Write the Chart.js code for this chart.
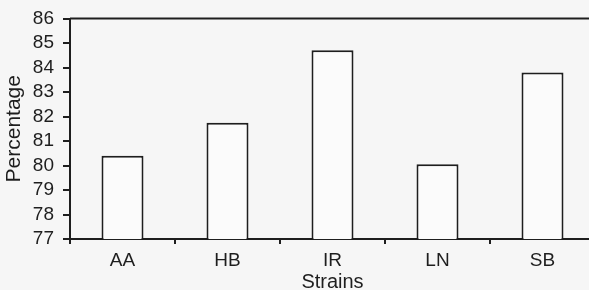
<!DOCTYPE html>
<html>
<head>
<meta charset="utf-8">
<script src="https://cdn.jsdelivr.net/npm/chart.js@4/dist/chart.umd.min.js"></script>
<style>
  html, body { margin: 0; padding: 0; background: #f6f6f6; overflow: hidden; }
  #wrap { width: 598px; height: 290px; }
</style>
</head>
<body>
<div id="wrap"><canvas id="chart"></canvas></div>
<script>
// strains and percentage values
const strains = ['AA', 'HB', 'IR', 'LN', 'SB'];
const percentage = [80.4, 81.75, 84.7, 80.05, 83.8];
const yMin = 77;
const yMax = 86;

const ink = '#1e1e1e';
const family = '"Liberation Sans", Arial, sans-serif';

// top + right border of the plot frame
const frame = {
    id: 'frame',
    afterDraw(chart) {
        const { ctx, chartArea: a } = chart;
        ctx.save();
        ctx.strokeStyle = ink;
        ctx.lineWidth = 2;
        ctx.beginPath();
        ctx.moveTo(a.left, a.top);
        ctx.lineTo(a.right, a.top);
        ctx.lineTo(a.right, a.bottom);
        ctx.stroke();
        ctx.restore();
    }
};

new Chart(document.getElementById('chart'), {
    type: 'bar',
    data: {
        labels: strains,
        datasets: [{
            label: 'Percentage',
            data: percentage,
            backgroundColor: '#fbfbfb',
            borderColor: ink,
            borderWidth: 2,
            barPercentage: 0.4,
            categoryPercentage: 1
        }]
    },
    options: {
        responsive: true,
        maintainAspectRatio: false,
        animation: false,
        layout: { padding: { top: 18, right: 3, bottom: 0, left: 0 } },
        plugins: { legend: { display: false }, tooltip: { enabled: false } },
        scales: {
            x: {
                grid: { display: true, drawOnChartArea: false, offset: true, tickLength: 5, color: ink, lineWidth: 2 },
                border: { display: true, color: ink, width: 2 },
                ticks: { color: ink, font: { family, size: 19, lineHeight: 1.2 }, padding: 5, maxRotation: 0, autoSkip: false },
                title: { display: true, text: 'Strains', color: ink, font: { family, size: 20, lineHeight: 0.75 }, padding: { top: 0, bottom: 0 } },
                afterFit(s) { s.height = 51; }
            },
            y: {
                min: yMin,
                max: yMax,
                grid: { display: true, drawOnChartArea: false, tickLength: 7, color: ink, lineWidth: 2 },
                border: { display: true, color: ink, width: 2 },
                ticks: { stepSize: 1, color: ink, font: { family, size: 19, lineHeight: 1 }, padding: 9, autoSkip: false },
                title: { display: true, text: 'Percentage', color: ink, font: { family, size: 21, lineHeight: 1.2 }, padding: { top: 2, bottom: 0 } },
                afterFit(s) { s.width = 70; }
            }
        }
    },
    plugins: [frame]
});
</script>
</body>
</html>
